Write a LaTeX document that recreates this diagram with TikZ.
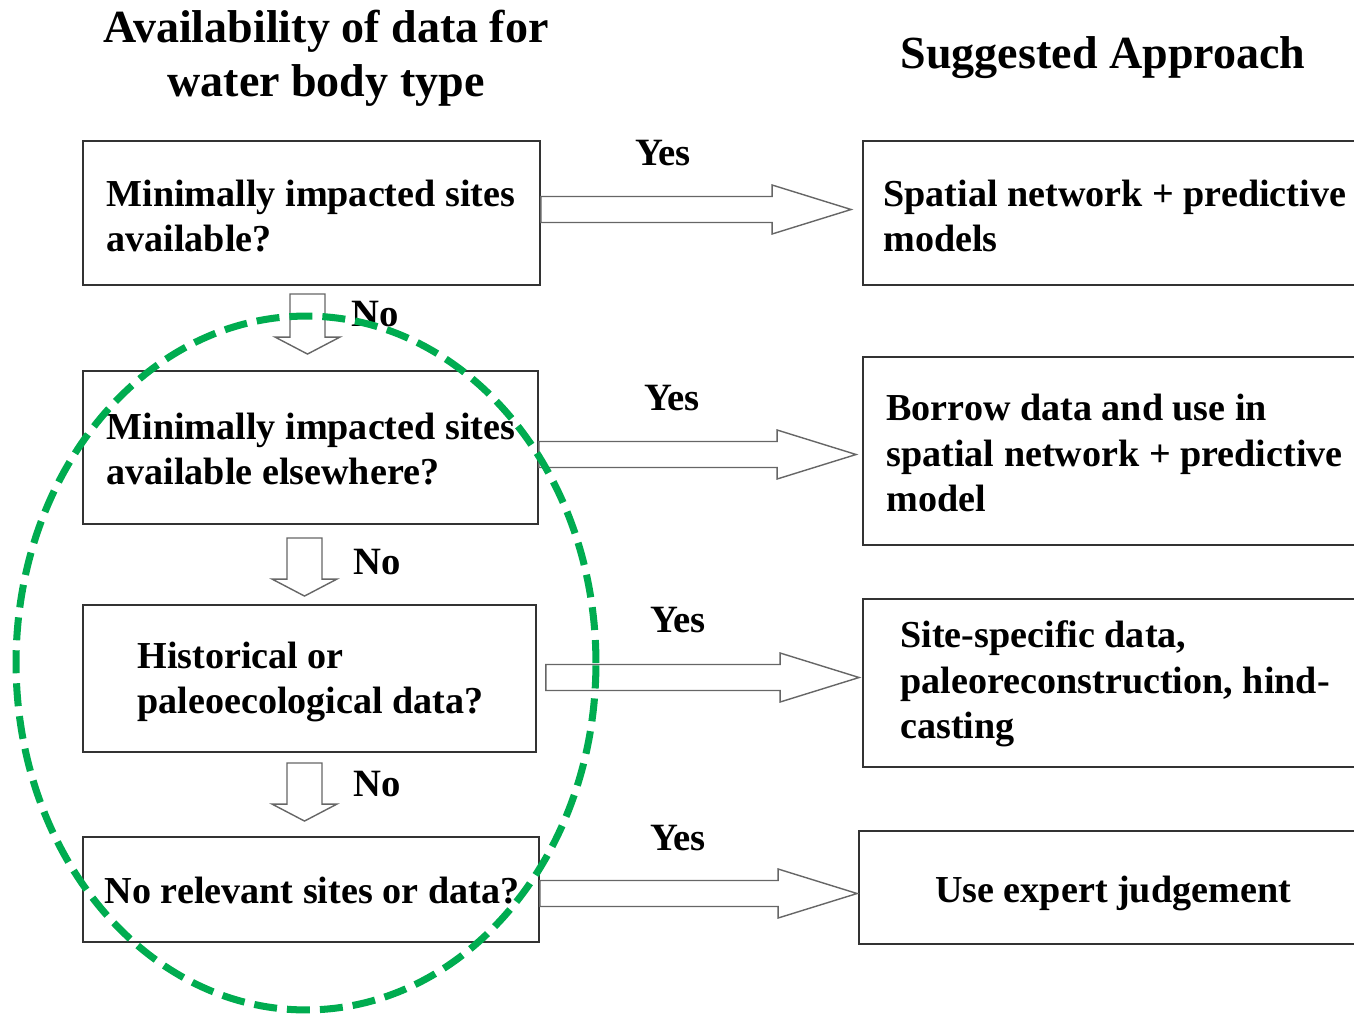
\documentclass[tikz,border=0pt]{standalone}
\usepackage{fontspec}
\setmainfont{Liberation Serif}
\usetikzlibrary{positioning,calc}
\definecolor{ringgreen}{RGB}{0,172,80}

% hollow block arrow to the right, closed at its start
\newcommand{\yesarrow}[2]{%
  \draw[myarrow] let \p1=(#1), \p2=(#2) in
    (\x1,\y1+0.26cm) -- (\x2-1.58cm,\y1+0.26cm) -- (\x2-1.58cm,\y1+0.49cm) -- (\x2,\y1)
    -- (\x2-1.58cm,\y1-0.49cm) -- (\x2-1.58cm,\y1-0.26cm) -- (\x1,\y1-0.26cm) -- cycle;}
% hollow block arrow downwards
\newcommand{\noarrow}[2]{%
  \draw[myarrow] let \p1=(#1), \p2=(#2) in
    (\x1-0.35cm,\y1) -- (\x1-0.35cm,\y2+0.34cm) -- (\x1-0.65cm,\y2+0.34cm) -- (\x1,\y2)
    -- (\x1+0.65cm,\y2+0.34cm) -- (\x1+0.35cm,\y2+0.34cm) -- (\x1+0.35cm,\y1) -- cycle;}

\begin{document}
\begin{tikzpicture}[x=0.02cm, y=-0.02cm]
	\tikzset{
		qbox/.style={rectangle, draw=black!80, line width=1.1pt, inner sep=0pt},
		boxtext/.style={align=left, inner sep=0pt, font=\fontsize{21.7}{26}\selectfont\bfseries},
		headtext/.style={align=center, inner sep=0pt, font=\fontsize{26.2}{31}\selectfont\bfseries},
		answer/.style={inner sep=0pt, font=\fontsize{22}{26}\selectfont\bfseries},
		myarrow/.style={draw=black!60, line width=0.8pt, line join=miter},
		ring/.style={draw=ringgreen, line width=4pt, dash pattern=on 0.46cm off 0.2cm}
	}
	\useasboundingbox (0,0) rectangle (1354,1014);

	% column heads
	\node[headtext] (avail) at (326,58) {Availability of data for\\water body type};
	\node[headtext] (approach) at (1103,58) {Suggested Approach};

	% questions
	\node[qbox, minimum width=9.14cm, minimum height=2.88cm] (q1) at (311.5,213) {};
	\node[qbox, minimum width=9.10cm, minimum height=3.06cm] (q2) at (310.5,447.5) {};
	\node[qbox, minimum width=9.06cm, minimum height=2.94cm] (q3) at (309.5,678.5) {};
	\node[qbox, minimum width=9.12cm, minimum height=2.10cm] (q4) at (311,889.5) {};
	\node[boxtext, anchor=west, right=0.48cm of q1.west, yshift=-0.06cm] (q1t) {Minimally impacted sites\\available?};
	\node[boxtext, anchor=west, right=0.48cm of q2.west, yshift=-0.03cm] (q2t) {Minimally impacted sites\\available elsewhere?};
	\node[boxtext, anchor=west, right=1.1cm of q3.west, yshift=-0.07cm] (q3t) {Historical or\\paleoecological data?};
	\node[boxtext] (q4t) at (312,891) {No relevant sites or data?};

	% suggested approaches
	\node[qbox, minimum width=10.18cm, minimum height=2.88cm] (a1) at (1117.5,213) {};
	\node[qbox, minimum width=10.18cm, minimum height=3.76cm] (a2) at (1117.5,451) {};
	\node[qbox, minimum width=10.18cm, minimum height=3.36cm] (a3) at (1117.5,683) {};
	\node[qbox, minimum width=10.26cm, minimum height=2.26cm] (a4) at (1115.5,887.5) {};
	\node[boxtext, anchor=west, right=0.42cm of a1.west, yshift=-0.06cm] (a1t) {Spatial network + predictive\\models};
	\node[boxtext, anchor=west, right=0.48cm of a2.west, yshift=-0.04cm] (a2t) {Borrow data and use in\\spatial network + predictive\\model};
	\node[boxtext, anchor=west, right=0.76cm of a3.west, yshift=-0.02cm] (a3t) {Site-specific data,\\paleoreconstruction, hind-\\casting};
	\node[boxtext] (a4t) at (1113,893) {Use expert judgement};

	% yes arrows
	\yesarrow{$(q1.east)+(0,-3.5)$}{$(a1.west)+(-11,0)$}
	\yesarrow{$(q2.east)+(0,7)$}{$(a2.west)+(-6,0)$}
	\yesarrow{$(q3.east)+(9,-1)$}{$(a3.west)+(-3,0)$}
	\yesarrow{$(q4.east)+(0,4)$}{$(a4.west)+(-1,0)$}
	\node[answer] (yes1) at (663,153) {Yes};
	\node[answer] (yes2) at (672,398) {Yes};
	\node[answer] (yes3) at (678,620) {Yes};
	\node[answer] (yes4) at (678,838) {Yes};

	% no arrows
	\noarrow{$(q1.south)+(-4,8)$}{$(q2.north)+(0,-16)$}
	\noarrow{$(q2.south)+(-6,13)$}{$(q3.north)+(0,-8)$}
	\noarrow{$(q3.south)+(-5,10)$}{$(q4.north)+(0,-15)$}
	\node[answer] (no1) at (375,314) {No};
	\node[answer] (no2) at (377,562) {No};
	\node[answer] (no3) at (377,784) {No};

	% highlight
	\draw[ring] (306,663) ellipse [x radius=5.8cm, y radius=6.94cm];
\end{tikzpicture}
\end{document}
